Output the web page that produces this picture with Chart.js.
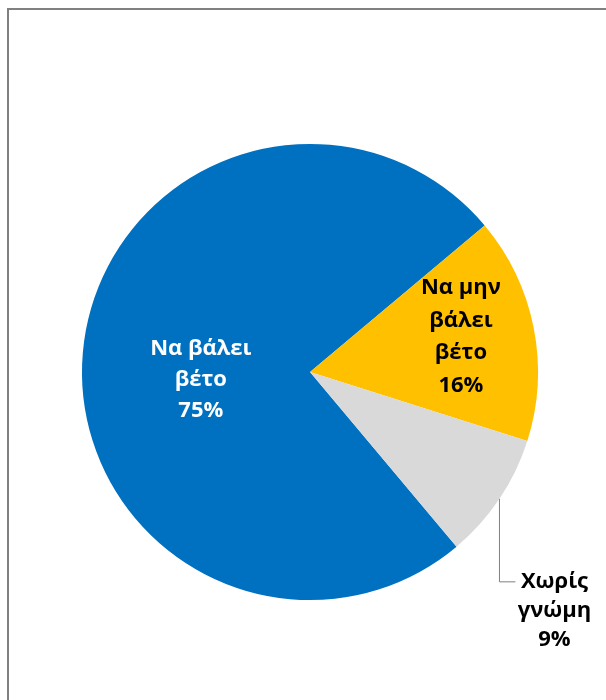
<!DOCTYPE html>
<html>
<head>
<meta charset="utf-8">
<script src="https://cdn.jsdelivr.net/npm/chart.js@4"></script>
<style>
  html, body { margin: 0; padding: 0; background: #fff; }
  #wrap { position: relative; width: 606px; height: 700px; overflow: hidden; }
  #frame { position: absolute; left: 7px; top: 8px; width: 620px; height: 720px;
           border-left: 2px solid #808080; border-top: 2px solid #808080; box-sizing: border-box; }
  #pie { position: absolute; left: 0; top: 0; }
</style>
</head>
<body>
<div id="wrap">
  <div id="frame"></div>
  <canvas id="pie" width="606" height="700"></canvas>
</div>
<script>
const categories = [['Να βάλει', 'βέτο'], ['Να μην', 'βάλει', 'βέτο'], ['Χωρίς', 'γνώμη']];
const shares = [75, 16, 9];
const sliceColors = ['#0070C0', '#FFC000', '#D9D9D9'];
const labelColors = ['#FFFFFF', '#000000', '#000000'];

const FONT = 'bold 22px "Open Sans", "Noto Sans", sans-serif';

// label placement per slice: radius fraction, angle shift (deg), line height, outside?
const placement = [
  { r: 0.48, shift: -9, lh: 31 },
  { r: 0.68, shift: -2, lh: 32.5 },
  { outside: true, lh: 29 }
];

const pieLabels = {
  id: 'pieLabels',
  afterDatasetsDraw(chart) {
    const ctx = chart.ctx;
    const arcs = chart.getDatasetMeta(0).data;
    ctx.save();
    ctx.font = FONT;
    ctx.textAlign = 'center';
    ctx.textBaseline = 'middle';
    arcs.forEach((arc, i) => {
      const p = placement[i];
      const lines = [...categories[i], shares[i] + '%'];
      const mid = (arc.startAngle + arc.endAngle) / 2;
      let cx, cy;
      if (p.outside) {
        const sx = arc.x + Math.cos(mid) * arc.outerRadius;
        const sy = arc.y + Math.sin(mid) * arc.outerRadius;
        const ey = sy + 83, ex = sx + 16;
        ctx.strokeStyle = '#808080';
        ctx.lineWidth = 1;
        ctx.beginPath();
        ctx.moveTo(sx, sy); ctx.lineTo(sx, ey); ctx.lineTo(ex, ey);
        ctx.stroke();
        cx = ex + 39;
        cy = ey + p.lh;
      } else {
        const a = mid + p.shift * Math.PI / 180;
        cx = arc.x + Math.cos(a) * arc.outerRadius * p.r;
        cy = arc.y + Math.sin(a) * arc.outerRadius * p.r;
      }
      ctx.fillStyle = labelColors[i];
      const top = cy - (lines.length - 1) * p.lh / 2;
      lines.forEach((t, k) => ctx.fillText(t, cx, top + k * p.lh));
    });
    ctx.restore();
  }
};

new Chart(document.getElementById('pie'), {
  type: 'pie',
  data: {
    labels: categories.map(c => c.join(' ')),
    datasets: [{ data: shares, backgroundColor: sliceColors, borderWidth: 0 }]
  },
  options: {
    responsive: false,
    animation: false,
    rotation: 140,
    layout: { padding: { left: 82, right: 68, top: 144, bottom: 100 } },
    plugins: { legend: { display: false }, tooltip: { enabled: false } }
  },
  plugins: [pieLabels]
});
</script>
</body>
</html>
